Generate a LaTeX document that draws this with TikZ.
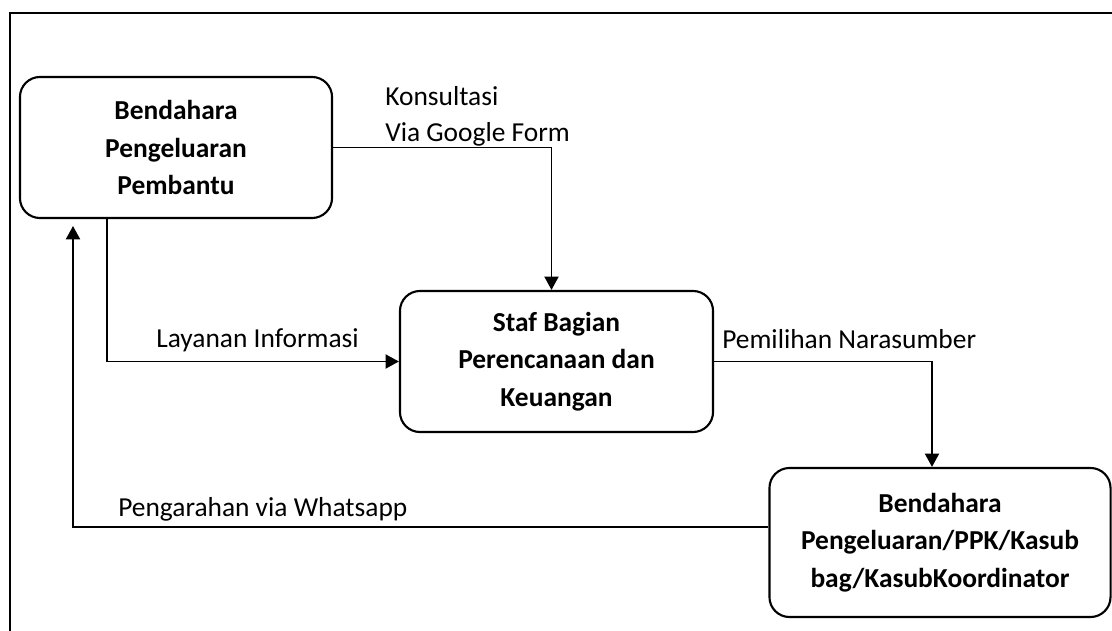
\documentclass[tikz,border=0pt]{standalone}
\usepackage{fontspec}
\setmainfont{Carlito}
\usetikzlibrary{arrows.meta,calc}
\begin{document}
\begin{tikzpicture}[x=0.025cm,y=-0.025cm,
    box/.style={draw,line width=1.5pt,rounded corners=0.5cm,align=center,inner sep=0pt,
        font=\fontsize{19.5}{26.5}\selectfont\bfseries},
    lbl/.style={inner sep=0pt,font=\fontsize{19.5}{25.6}\selectfont},
    flow/.style={line width=1.3pt,-{Triangle[length=9.5pt,width=10pt]}}]
    \useasboundingbox (0,0) rectangle (1112,631);
    \draw[line width=1.7pt] (10,631) -- (10,13) -- (1112,13);

    \node[box,minimum width=7.8cm,minimum height=3.525cm] (bpp) at (176,147.5) {Bendahara\\Pengeluaran\\Pembantu};
    \node[box,minimum width=7.825cm,minimum height=3.525cm] (staf) at (556.5,361.5) {Staf Bagian\\Perencanaan dan\\Keuangan};
    \node[box,minimum width=8.525cm,minimum height=3.725cm] (ppk) at (940,542.5) {Bendahara\\Pengeluaran/PPK/Kasub\\bag/KasubKoordinator};

    \node[lbl,anchor=north west,align=left] (konsul) at (385,86) {Konsultasi\\Via Google Form};
    \node[lbl,anchor=base west] (layanan) at (156,347) {Layanan Informasi};
    \node[lbl,anchor=base west] (pilih) at (722,348) {Pemilihan Narasumber};
    \node[lbl,anchor=base west] (arah) at (118,516) {Pengarahan via Whatsapp};

    \coordinate (back) at (73,226);
    \draw[flow] (bpp.east) -| ([xshift=-0.125cm]staf.north);
    \draw[flow] ($(bpp.south west)!0.28!(bpp.south east)$) |- (staf.west);
    \draw[flow] (staf.east) -| ([xshift=-0.2cm]ppk.north);
    \draw[flow] ($(ppk.north west)!0.4!(ppk.south west)$) -| (back);
\end{tikzpicture}
\end{document}
